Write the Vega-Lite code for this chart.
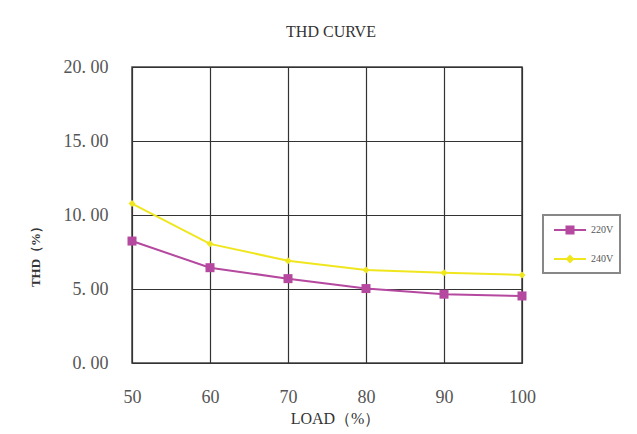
{
  "$schema": "https://vega.github.io/schema/vega-lite/v6.json",
  "autosize": {"type": "none"},
  "padding": {"left": 132, "top": 67, "right": 115, "bottom": 71},
  "width": 390,
  "height": 296,
  "background": "white",
  "title": {
    "text": "THD CURVE",
    "font": "Liberation Serif",
    "fontSize": 16,
    "fontWeight": "normal",
    "color": "#333",
    "offset": 18,
    "dx": 4
  },
  "config": {
    "view": {"stroke": "#444", "strokeWidth": 1.5},
    "axis": {
      "gridColor": "#333",
      "gridWidth": 1.2,
      "gridOpacity": 1,
      "domain": false,
      "ticks": false,
      "labelFont": "Liberation Serif",
      "labelColor": "#555",
      "titleFont": "Liberation Serif",
      "titleColor": "#333"
    }
  },
  "data": {
    "values": [
      {"load": 50, "series": "220V", "thd": 8.24},
      {"load": 60, "series": "220V", "thd": 6.44},
      {"load": 70, "series": "220V", "thd": 5.70},
      {"load": 80, "series": "220V", "thd": 5.03},
      {"load": 90, "series": "220V", "thd": 4.65},
      {"load": 100, "series": "220V", "thd": 4.53},
      {"load": 50, "series": "240V", "thd": 10.77},
      {"load": 60, "series": "240V", "thd": 8.05},
      {"load": 70, "series": "240V", "thd": 6.91},
      {"load": 80, "series": "240V", "thd": 6.28},
      {"load": 90, "series": "240V", "thd": 6.10},
      {"load": 100, "series": "240V", "thd": 5.95}
    ]
  },
  "encoding": {
    "x": {
      "field": "load",
      "type": "quantitative",
      "scale": {"domain": [50, 100], "nice": false, "zero": false},
      "axis": {
        "values": [50, 60, 70, 80, 90, 100],
        "title": "LOAD（%）",
        "titleFontSize": 16,
        "titleFontWeight": "normal",
        "titleX": 203,
        "titleY": 55,
        "titleBaseline": "middle",
        "labelFontSize": 18,
        "labelPadding": 25,
        "labelFlush": false
      }
    },
    "y": {
      "field": "thd",
      "type": "quantitative",
      "scale": {"domain": [0, 20], "nice": false},
      "axis": {
        "values": [0, 5, 10, 15, 20],
        "format": ".2f",
        "labelExpr": "replace(datum.label, '.', '. ')",
        "title": "THD（%）",
        "titleFontSize": 13,
        "titleFontWeight": "bold",
        "titleX": -97,
        "titleY": 186,
        "titleAlign": "center",
        "titleBaseline": "middle",
        "titleAngle": 270,
        "labelFontSize": 18,
        "labelPadding": 24,
        "labelBaseline": "middle",
        "labelFlush": false
      }
    },
    "color": {
      "field": "series",
      "type": "nominal",
      "scale": {"domain": ["220V", "240V"], "range": ["#B5489F", "#F0E61E"]},
      "legend": {
        "title": null,
        "orient": "none",
        "legendX": 411,
        "legendY": 148,
        "padding": 6,
        "symbolSize": 256,
        "symbolOffset": 12,
        "labelOffset": 12,
        "rowPadding": 12,
        "symbolStrokeWidth": 2,
        "labelFont": "Liberation Sans Narrow",
        "labelFontSize": 10,
        "labelColor": "#555",
        "strokeColor": "#888",
        "encode": {
          "legend": {"update": {"stroke": {"value": "#888"}, "strokeWidth": {"value": 2}}},
          "symbols": {
            "update": {
              "shape": {"signal": "datum.value === '220V' ? 'M-2,0H2M-0.44,-0.44H0.44V0.44H-0.44Z' : 'M-2,0H2M-0.38,0L0,-0.38L0.38,0L0,0.38Z'"},
              "fill": {"signal": "datum.value === '220V' ? '#B5489F' : '#F0E61E'"},
              "stroke": {"signal": "datum.value === '220V' ? '#B5489F' : '#F0E61E'"},
              "strokeWidth": {"value": 2},
              "strokeOpacity": {"value": 1},
              "fillOpacity": {"value": 1},
              "opacity": {"value": 1}
            }
          }
        }
      }
    }
  },
  "layer": [
    {"mark": {"type": "line", "strokeWidth": 2}},
    {
      "transform": [{"filter": "datum.series === '220V'"}],
      "mark": {"type": "point", "filled": true, "opacity": 1, "shape": "square", "size": 81}
    },
    {
      "transform": [{"filter": "datum.series === '240V'"}],
      "mark": {"type": "point", "filled": true, "opacity": 1, "shape": "diamond", "size": 49}
    }
  ]
}
